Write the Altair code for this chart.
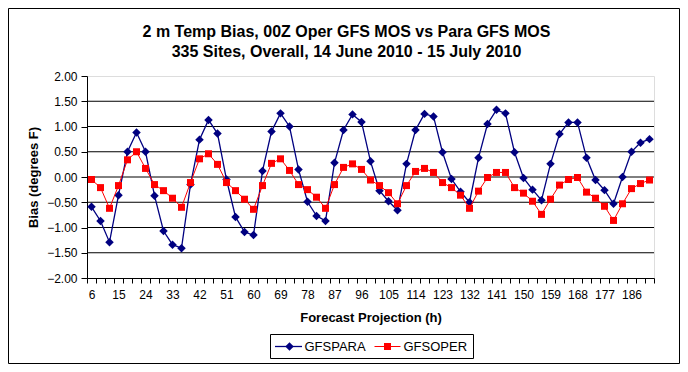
import altair as alt
import pandas as pd

# ---------------- data ----------------
hours = list(range(6, 193, 3))  # forecast projections (h)

gfspara = [-0.59, -0.87, -1.29, -0.36, 0.50, 0.88, 0.50, -0.37, -1.07, -1.34, -1.41,
           -0.15, 0.74, 1.13, 0.86, -0.05, -0.79, -1.09, -1.15, 0.12, 0.90, 1.26,
           1.00, 0.15, -0.49, -0.77, -0.87, 0.28, 0.93, 1.24, 1.09, 0.31, -0.27,
           -0.48, -0.66, 0.26, 0.93, 1.25, 1.20, 0.49, -0.04, -0.29, -0.50, 0.38,
           1.05, 1.33, 1.26, 0.49, -0.02, -0.25, -0.46, 0.26, 0.85, 1.08, 1.08,
           0.38, -0.06, -0.26, -0.53, 0.00, 0.50, 0.68, 0.75]

gfsoper = [-0.05, -0.21, -0.62, -0.17, 0.34, 0.50, 0.17, -0.15, -0.27, -0.42, -0.60,
           -0.11, 0.36, 0.46, 0.25, -0.11, -0.27, -0.44, -0.64, -0.17, 0.27, 0.36,
           0.13, -0.15, -0.25, -0.40, -0.62, -0.15, 0.19, 0.26, 0.15, -0.06, -0.17,
           -0.31, -0.53, -0.17, 0.11, 0.17, 0.09, -0.11, -0.21, -0.36, -0.62, -0.28,
           -0.01, 0.09, 0.09, -0.21, -0.32, -0.48, -0.74, -0.44, -0.16, -0.05, -0.01,
           -0.30, -0.42, -0.58, -0.86, -0.53, -0.23, -0.13, -0.06]

series_names = ["GFSPARA", "GFSOPER"]
series_colors = ["#000080", "#FF0000"]
y_ticks = [-2.0, -1.5, -1.0, -0.5, 0.0, 0.5, 1.0, 1.5, 2.0]
grid_vals = [-1.5, -1.0, -0.5, 0.0, 0.5, 1.0, 1.5]

title_line1 = "2 m Temp Bias, 00Z Oper GFS MOS vs Para GFS MOS"
title_line2 = "335 Sites, Overall, 14 June 2010 - 15 July 2010"

# ---------------- tables ----------------
df = pd.DataFrame({
    "h": hours * 2,
    "bias": gfspara + gfsoper,
    "series": [series_names[0]] * len(hours) + [series_names[1]] * len(hours),
})
grid_df = pd.DataFrame({"bias": grid_vals})
one_df = pd.DataFrame({"f": [0]})

FONT = "Arial, Liberation Sans, sans-serif"
PARA_SIZE, OPER_SIZE = 72, 49

x_enc = alt.X(
    "h:O",
    scale=alt.Scale(type="band", paddingInner=0, paddingOuter=0),
    axis=alt.Axis(
        title="Forecast Projection (h)", labelAngle=0, tickBand="extent",
        labelExpr="(datum.value - 6) % 9 == 0 ? datum.label : ''",
        labelOverlap=False, tickSize=5, tickColor="black", domainColor="black",
        labelColor="black", labelFont=FONT, labelFontSize=12, labelPadding=6,
        titleFont=FONT, titleFontSize=13, titleFontWeight="bold", titleColor="black",
        titlePadding=11, grid=False,
    ),
)
y_axis = alt.Axis(
    values=y_ticks, format=".2f", title="Bias (degrees F)", grid=False,
    labelOverlap=False, tickSize=6, tickColor="black", domainColor="black",
    labelColor="black", labelFont=FONT, labelFontSize=12, labelPadding=4,
    titleFont=FONT, titleFontSize=13, titleFontWeight="bold", titleColor="black",
    titlePadding=6,
)
y_scale = alt.Scale(domain=[-2, 2], nice=False, zero=False)
y_enc = alt.Y("bias:Q", scale=y_scale, axis=y_axis)
color_enc = alt.Color("series:N", scale=alt.Scale(domain=series_names, range=series_colors),
                      legend=None)

base = alt.Chart(df)

grid = alt.Chart(grid_df).mark_rule(color="black", strokeWidth=1).encode(y=y_enc)

para = base.transform_filter(alt.datum.series == series_names[0])
oper = base.transform_filter(alt.datum.series == series_names[1])

para_line = para.mark_line(strokeWidth=1.3).encode(x=x_enc, y=y_enc, color=color_enc)
para_pts = para.mark_point(shape="diamond", filled=True, size=PARA_SIZE, opacity=1).encode(
    x=x_enc, y=y_enc, color=color_enc)
oper_line = oper.mark_line(strokeWidth=1).encode(x=x_enc, y=y_enc, color=color_enc)
oper_pts = oper.mark_point(shape="square", filled=True, size=OPER_SIZE, opacity=1).encode(
    x=x_enc, y=y_enc, color=color_enc)

# ---------------- legend (boxed, below the axis title) ----------------
one = alt.Chart(one_df)
leg_y = 270.5
leg_box = one.mark_rect(fill="white", stroke="black", strokeWidth=1).encode(
    x=alt.value(183.5), x2=alt.value(386.5), y=alt.value(258.5), y2=alt.value(282.5))
leg_line1 = one.mark_rule(color=series_colors[0], strokeWidth=1.3).encode(
    x=alt.value(188), x2=alt.value(215), y=alt.value(leg_y))
leg_sym1 = one.mark_point(shape="diamond", filled=True, size=PARA_SIZE, opacity=1,
                          color=series_colors[0]).encode(x=alt.value(202.5), y=alt.value(leg_y))
leg_txt1 = one.mark_text(text=series_names[0], font=FONT, fontSize=13, color="black",
                         align="left", baseline="middle").encode(x=alt.value(217.5), y=alt.value(leg_y))
leg_line2 = one.mark_rule(color=series_colors[1], strokeWidth=1).encode(
    x=alt.value(287.5), x2=alt.value(313.5), y=alt.value(leg_y))
leg_sym2 = one.mark_point(shape="square", filled=True, size=OPER_SIZE, opacity=1,
                          color=series_colors[1]).encode(x=alt.value(300.5), y=alt.value(leg_y))
leg_txt2 = one.mark_text(text=series_names[1], font=FONT, fontSize=13, color="black",
                         align="left", baseline="middle").encode(x=alt.value(316.5), y=alt.value(leg_y))

# ---------------- chart frame and title ----------------
frame = one.mark_rect(fillOpacity=0, stroke="black", strokeWidth=1).encode(
    x=alt.value(-78.5), x2=alt.value(592.5), y=alt.value(-67.5), y2=alt.value(287.5))

title_style = dict(font=FONT, fontSize=16, fontWeight="bold", color="black",
                   align="center", baseline="alphabetic")
title1 = one.mark_text(text=title_line1, **title_style).encode(
    x=alt.value(259.5), y=alt.value(-39.5))
title2 = one.mark_text(text=title_line2, **title_style).encode(
    x=alt.value(259.5), y=alt.value(-19))

chart = alt.layer(grid, para_line, para_pts, oper_line, oper_pts, frame, title1, title2,
                  leg_box, leg_line1, leg_sym1, leg_txt1, leg_line2, leg_sym2, leg_txt2).properties(
    width=567, height=202,
    autosize=alt.AutoSizeParams(type="none"),
    padding={"left": 79, "top": 68, "right": 26, "bottom": 86},
).configure_view(stroke="#808080", strokeWidth=1).configure(background="white")

chart.save("out.html", embed_options={"renderer": "svg", "actions": False})
